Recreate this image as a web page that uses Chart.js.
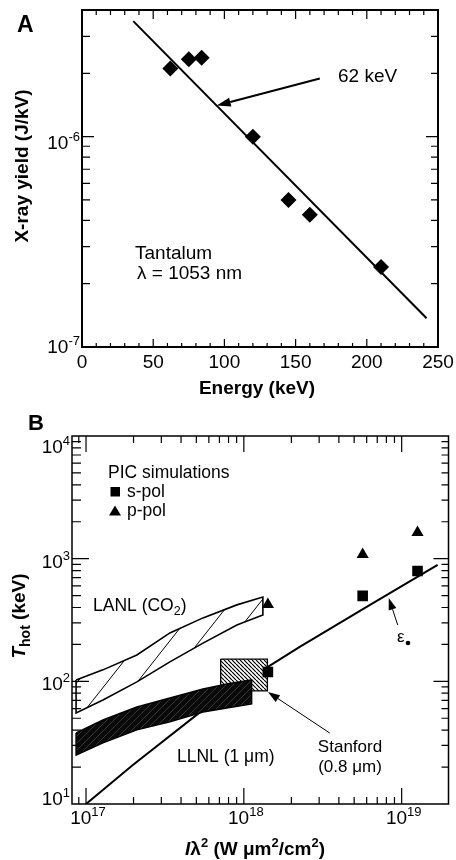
<!DOCTYPE html>
<html>
<head>
<meta charset="utf-8">
<script src="https://cdn.jsdelivr.net/npm/chart.js@4.4.0/dist/chart.umd.min.js"></script>
<style>
  body { margin: 0; background: #fff; }
  #wrap { position: relative; width: 456px; height: 860px; }
  canvas { position: absolute; left: 0; }
  #chartA { top: 0; }
  #chartB { top: 400px; }
</style>
</head>
<body>
<div id="wrap">
  <canvas id="chartA" width="456" height="400"></canvas>
  <canvas id="chartB" width="456" height="460"></canvas>
</div>
<script>
// panel A - tantalum x-ray yield
const energyKeV = [62, 75, 84, 120, 145, 160, 210];
const xrayYield = [2.11e-6, 2.33e-6, 2.37e-6, 1.0e-6, 5.0e-7, 4.25e-7, 2.4e-7];
const fitEnergy = [36, 242];
const fitYield = [3.54e-6, 1.37e-7];
const energyTicks = [0, 50, 100, 150, 200, 250];
const yieldTickExp = [-7, -6];

// panel B - Thot vs I lambda^2
const sPolI = [1.42e18, 5.66e18, 1.26e19];
const sPolT = [119, 497, 794];
const pPolI = [1.42e18, 5.66e18, 1.26e19];
const pPolT = [424, 1082, 1636];
const epsI = [1e17, 1.98e17, 5.51e17, 1.42e18, 2.26e18, 6.0e18, 1.69e19];
const epsT = [10, 20.8, 58.5, 131, 191, 404, 889];
const lanlI = [8.65e16, 1.28e17, 2.10e17, 3.40e17, 5.51e17, 9.03e17, 1.32e18];
const lanlHigh = [102.6, 124, 164, 248, 329, 420, 487];
const lanlLow = [55.3, 70.5, 98.9, 144, 205, 288, 348];
const llnlI = [8.65e16, 1.28e17, 2.10e17, 3.40e17, 5.51e17, 7.80e17, 1.12e18];
const llnlHigh = [38.0, 48.4, 61.8, 73.2, 86.7, 95.2, 102.6];
const llnlLow = [25.1, 31.5, 40.2, 46.7, 56.3, 60.7, 65.5];
const stanfordI = [7.13e17, 1.41e18];
const stanfordT = [83.6, 152];
const intensityTickExp = [17, 18, 19];
const thotTickExp = [1, 2, 3, 4];

const FONT = '"Liberation Sans", Arial, Helvetica, sans-serif';

function fnt(size, bold, italic) {
  return (italic ? 'italic ' : '') + (bold ? 'bold ' : '') + size + 'px ' + FONT;
}

// draw a run of text pieces (size, bold, italic, vertical shift)
function rich(ctx, parts, x, y, align) {
  let w = 0;
  parts.forEach(p => { ctx.font = fnt(p.s, p.b, p.i); w += ctx.measureText(p.t).width; });
  let cx = align === 'center' ? x - w / 2 : align === 'right' ? x - w : x;
  ctx.textAlign = 'left';
  ctx.textBaseline = 'alphabetic';
  parts.forEach(p => {
    ctx.font = fnt(p.s, p.b, p.i);
    ctx.fillText(p.t, cx, y + (p.dy || 0));
    cx += ctx.measureText(p.t).width;
  });
}

function pow10(ctx, exp, x, y, align) {
  rich(ctx, [{t: '10', s: 19}, {t: String(exp), s: 13, dy: -8}], x, y, align);
}

function arrow(ctx, x1, y1, x2, y2, lw, hl, hw) {
  const a = Math.atan2(y2 - y1, x2 - x1);
  const bx = x2 - hl * Math.cos(a), by = y2 - hl * Math.sin(a);
  ctx.lineWidth = lw;
  ctx.beginPath(); ctx.moveTo(x1, y1); ctx.lineTo(bx, by); ctx.stroke();
  ctx.beginPath();
  ctx.moveTo(x2, y2);
  ctx.lineTo(bx + hw * Math.sin(a), by - hw * Math.cos(a));
  ctx.lineTo(bx - hw * Math.sin(a), by + hw * Math.cos(a));
  ctx.closePath();
  ctx.fill();
}

function logTicks(min, max) {
  const out = [];
  for (let e = Math.floor(Math.log10(min)); e <= Math.ceil(Math.log10(max)); e++) {
    for (let m = 1; m < 10; m++) {
      const v = m * Math.pow(10, e);
      if (v >= min && v <= max) out.push({v, major: m === 1});
    }
  }
  return out;
}

// box with inward ticks on all four sides
function frame(chart, xt, yt, len, lw) {
  const {ctx, chartArea: a, scales: {x, y}} = chart;
  ctx.save();
  ctx.strokeStyle = '#000';
  ctx.lineWidth = 1.2;
  ctx.beginPath();
  xt.forEach(t => {
    const px = x.getPixelForValue(t.v);
    if (px <= a.left + 1 || px >= a.right - 1) return;
    const k = t.major ? 0 : 1;
    ctx.moveTo(px, a.bottom); ctx.lineTo(px, a.bottom - len.b[k]);
    ctx.moveTo(px, a.top); ctx.lineTo(px, a.top + len.t[k]);
  });
  yt.forEach(t => {
    const py = y.getPixelForValue(t.v);
    if (py <= a.top + 1 || py >= a.bottom - 1) return;
    const k = t.major ? 0 : 1;
    ctx.moveTo(a.left, py); ctx.lineTo(a.left + len.l[k], py);
    ctx.moveTo(a.right, py); ctx.lineTo(a.right - len.r[k], py);
  });
  ctx.stroke();
  ctx.lineWidth = lw;
  ctx.strokeRect(a.left, a.top, a.right - a.left, a.bottom - a.top);
  ctx.restore();
}

function hatch(w, h, bg, fg, lw, rising) {
  const c = document.createElement('canvas');
  c.width = w; c.height = h;
  const g = c.getContext('2d');
  g.fillStyle = bg; g.fillRect(0, 0, w, h);
  g.strokeStyle = fg; g.lineWidth = lw;
  g.beginPath();
  [-1, 0, 1].forEach(k => {
    if (rising) { g.moveTo(k * w, h); g.lineTo(k * w + w, 0); }
    else { g.moveTo(k * w, 0); g.lineTo(k * w + w, h); }
  });
  g.stroke();
  return g.createPattern(c, 'repeat');
}

function band(xs, hi, lo) {
  const pts = xs.map((v, i) => ({x: v, y: hi[i]}));
  const back = xs.map((v, i) => ({x: v, y: lo[i]})).reverse();
  return pts.concat(back, [pts[0]]);
}

const panelA = {
  id: 'panelA',
  afterDraw(chart) {
    const {ctx, chartArea: a, scales: {x, y}} = chart;
    const xt = [];
    for (let v = 0; v <= 250; v += 10) xt.push({v, major: v % 50 === 0});
    frame(chart, xt, logTicks(1e-7, 4e-6), {b: [8, 4], t: [9, 5], l: [12, 8], r: [12, 7]}, 2);

    ctx.save();
    ctx.fillStyle = '#000';
    ctx.strokeStyle = '#000';
    energyTicks.forEach(v => rich(ctx, [{t: String(v), s: 19}], x.getPixelForValue(v), a.bottom + 21, 'center'));
    yieldTickExp.forEach(e => {
      const py = y.getPixelForValue(Math.pow(10, e));
      pow10(ctx, e, a.left - 2, Math.min(py + 12, a.bottom + 6), 'right');
    });

    rich(ctx, [{t: 'Energy (keV)', s: 19, b: true}], 257, 394, 'center');
    ctx.save();
    ctx.translate(21, 166);
    ctx.rotate(-Math.PI / 2);
    rich(ctx, [{t: 'X-ray yield (J/kV)', s: 19, b: true}], 0, 7, 'center');
    ctx.restore();

    rich(ctx, [{t: 'A', s: 23, b: true}], 17, 32, 'left');
    rich(ctx, [{t: '62 keV', s: 19}], 338, 82, 'left');
    rich(ctx, [{t: 'Tantalum', s: 19}], 135, 259, 'left');
    rich(ctx, [{t: '\u03bb = 1053 nm', s: 19}], 137, 279, 'left');

    arrow(ctx, x.getPixelForValue(167), y.getPixelForValue(1.89e-6),
      x.getPixelForValue(94.6), y.getPixelForValue(1.405e-6), 2, 14, 4.5);
    ctx.restore();
  }
};

const panelB = {
  id: 'panelB',
  afterDraw(chart) {
    const {ctx, chartArea: a, scales: {x, y}} = chart;
    frame(chart, logTicks(x.min, x.max), logTicks(10, 1e4),
      {b: [16, 7], t: [16, 7], l: [17, 9], r: [15, 7]}, 1.5);

    ctx.save();
    ctx.fillStyle = '#000';
    ctx.strokeStyle = '#000';
    intensityTickExp.forEach(e => pow10(ctx, e, x.getPixelForValue(Math.pow(10, e)) + 2, a.bottom + 20, 'center'));
    thotTickExp.forEach(e => {
      const py = y.getPixelForValue(Math.pow(10, e));
      pow10(ctx, e, a.left - 2, Math.max(a.top + 17, Math.min(py + 9, a.bottom + 1)), 'right');
    });

    rich(ctx, [
      {t: 'I', s: 19, b: true, i: true}, {t: '\u03bb', s: 19, b: true}, {t: '2', s: 13, b: true, dy: -8},
      {t: ' (W \u03bcm', s: 19, b: true}, {t: '2', s: 13, b: true, dy: -8},
      {t: '/cm', s: 19, b: true}, {t: '2', s: 13, b: true, dy: -8}, {t: ')', s: 19, b: true}
    ], 255, 455, 'center');
    ctx.save();
    ctx.translate(18, 216);
    ctx.rotate(-Math.PI / 2);
    rich(ctx, [{t: 'T', s: 19, b: true, i: true}, {t: 'hot', s: 14, b: true, dy: 5}, {t: ' (keV)', s: 19, b: true}], 0, 7, 'center');
    ctx.restore();

    rich(ctx, [{t: 'B', s: 22, b: true}], 28, 30, 'left');

    // legend of the PIC points
    rich(ctx, [{t: 'PIC simulations', s: 17.5}], 108, 78, 'left');
    ctx.fillRect(110.5, 87, 9.5, 9.5);
    rich(ctx, [{t: 's-pol', s: 17.5}], 127, 97, 'left');
    ctx.beginPath();
    ctx.moveTo(115, 105.5); ctx.lineTo(121, 115.5); ctx.lineTo(109, 115.5); ctx.closePath(); ctx.fill();
    rich(ctx, [{t: 'p-pol', s: 17.5}], 127, 116, 'left');

    rich(ctx, [{t: 'LANL (CO', s: 17.5}, {t: '2', s: 12.5, dy: 4}, {t: ')', s: 17.5}], 93, 211, 'left');
    rich(ctx, [{t: 'LLNL (1 \u03bcm)', s: 17.5}], 177, 362, 'left');
    rich(ctx, [{t: 'Stanford', s: 17}], 350, 352, 'center');
    rich(ctx, [{t: '(0.8 \u03bcm)', s: 17}], 350, 372, 'center');
    rich(ctx, [{t: '\u03b5', s: 17}], 397, 242, 'left');
    ctx.beginPath(); ctx.arc(408, 243, 2.3, 0, Math.PI * 2); ctx.fill();

    arrow(ctx, x.getPixelForValue(3.5e18), y.getPixelForValue(37.9),
      x.getPixelForValue(1.42e18), y.getPixelForValue(82), 1, 12, 4);
    arrow(ctx, x.getPixelForValue(9.44e18), y.getPixelForValue(288),
      x.getPixelForValue(8.28e18), y.getPixelForValue(479), 1, 12, 4);
    ctx.restore();
  }
};

new Chart(document.getElementById('chartA'), {
  type: 'scatter',
  data: {
    datasets: [
      {
        data: energyKeV.map((e, i) => ({x: e, y: xrayYield[i]})),
        pointStyle: 'rectRot', pointRadius: 8,
        backgroundColor: '#000', borderColor: '#000', borderWidth: 0
      },
      {
        data: fitEnergy.map((e, i) => ({x: e, y: fitYield[i]})),
        showLine: true, borderColor: '#000', borderWidth: 2, pointRadius: 0
      }
    ]
  },
  options: {
    responsive: false, animation: false, devicePixelRatio: 1, events: [],
    layout: {padding: {left: 82, right: 18, top: 10, bottom: 53}},
    scales: {
      x: {type: 'linear', min: 0, max: 250, display: false},
      y: {type: 'logarithmic', min: 1e-7, max: 4e-6, display: false}
    },
    plugins: {legend: {display: false}, tooltip: {enabled: false}}
  },
  plugins: [panelA]
});

new Chart(document.getElementById('chartB'), {
  type: 'scatter',
  data: {
    datasets: [
      {
        data: pPolI.map((v, i) => ({x: v, y: pPolT[i]})),
        pointStyle: 'triangle', pointRadius: 7,
        backgroundColor: '#000', borderColor: '#000', borderWidth: 0, order: 0
      },
      {
        data: sPolI.map((v, i) => ({x: v, y: sPolT[i]})),
        pointStyle: 'rect', pointRadius: 7.5,
        backgroundColor: '#000', borderColor: '#000', borderWidth: 0, order: 1
      },
      {
        data: band(llnlI, llnlHigh, llnlLow),
        showLine: true, fill: 'shape', pointRadius: 0, borderColor: '#000', borderWidth: 1.5,
        backgroundColor: hatch(7, 7, '#0a0a0a', '#4a4a4a', 0.7, true), order: 3
      },
      {
        data: band(stanfordI, [stanfordT[1], stanfordT[1]], [stanfordT[0], stanfordT[0]]),
        showLine: true, fill: 'shape', pointRadius: 0, borderColor: '#000', borderWidth: 1.3,
        backgroundColor: hatch(4, 4, '#fff', '#000', 1.2, false), order: 4
      },
      {
        data: band(lanlI, lanlHigh, lanlLow),
        showLine: true, fill: 'shape', pointRadius: 0, borderColor: '#000', borderWidth: 1.6,
        backgroundColor: hatch(30, 38, '#fff', '#000', 1, true), order: 5
      },
      {
        data: epsI.map((v, i) => ({x: v, y: epsT[i]})),
        showLine: true, pointRadius: 0, borderColor: '#000', borderWidth: 2, order: 6
      }
    ]
  },
  options: {
    responsive: false, animation: false, devicePixelRatio: 1, events: [],
    layout: {padding: {left: 72, right: 7, top: 36, bottom: 56}},
    scales: {
      x: {type: 'logarithmic', min: 8.15e16, max: 1.98e19, display: false},
      y: {type: 'logarithmic', min: 10, max: 1e4, display: false}
    },
    plugins: {legend: {display: false}, tooltip: {enabled: false}}
  },
  plugins: [panelB]
});
</script>
</body>
</html>
